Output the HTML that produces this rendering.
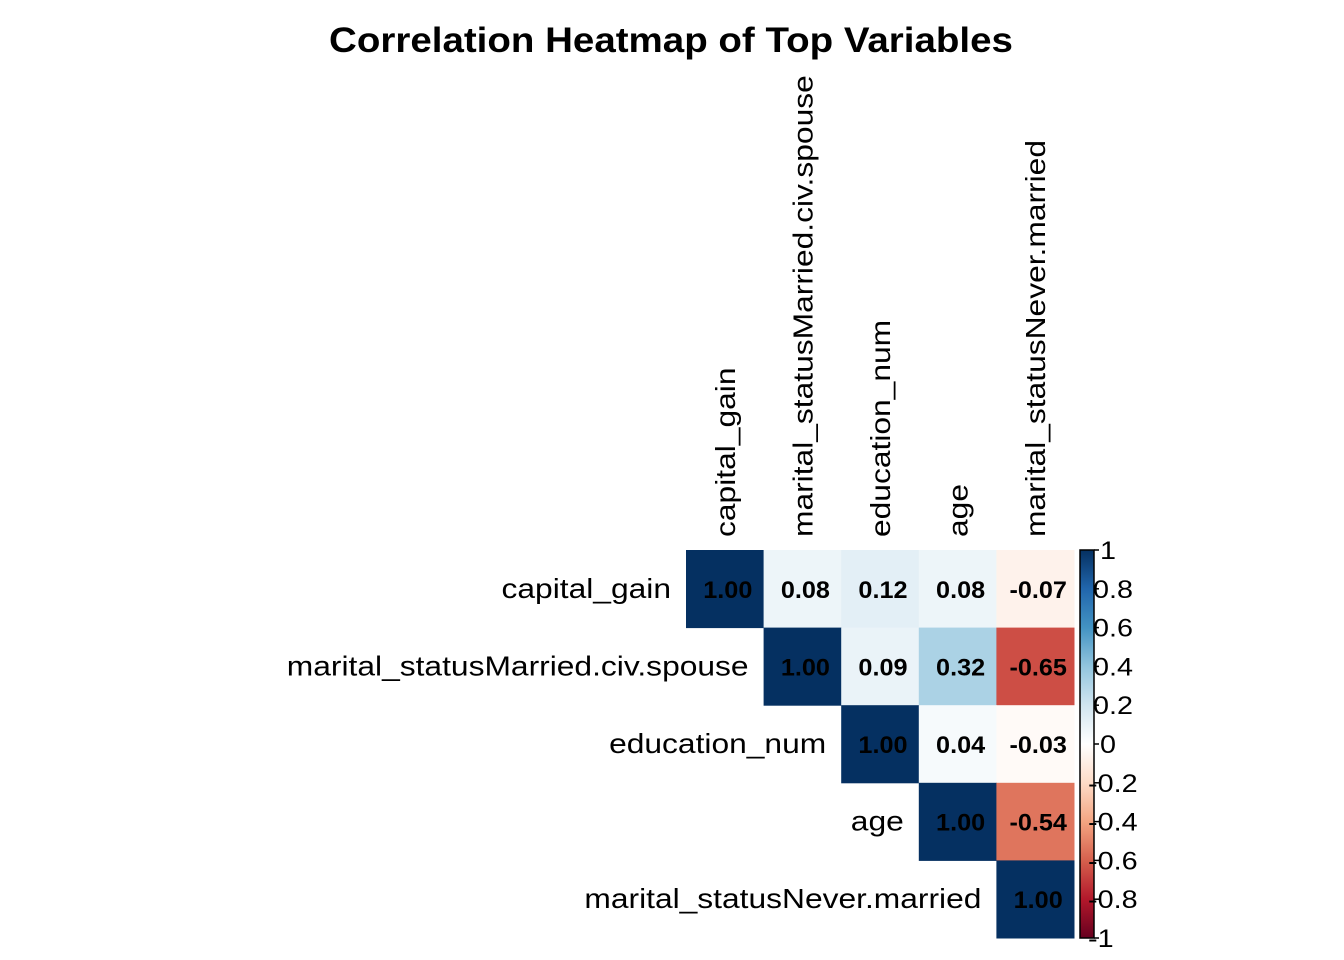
<!DOCTYPE html>
<html><head><meta charset="utf-8">
<style>
html,body{margin:0;padding:0;background:#fff;}
svg{display:block;font-family:"Liberation Sans",Arial,sans-serif;}
</style></head>
<body>
<svg id="chart" width="1344" height="960" viewBox="0 0 1344 960">
  <defs>
    <clipPath id="plotclip"><rect x="0" y="73" width="1344" height="887"/></clipPath>
    <linearGradient id="legendgrad" x1="0" y1="1" x2="0" y2="0"></linearGradient>
  </defs>
  <text id="title" x="671" y="52" text-anchor="middle" font-size="35" font-weight="bold" fill="#000">Correlation Heatmap of Top Variables</text>
  <g id="cells"></g>
  <g id="labels" clip-path="url(#plotclip)"></g>
  <g id="legend"></g>
</svg>
<script>
const variables = ["capital_gain","marital_statusMarried.civ.spouse","education_num","age","marital_statusNever.married"];
const row0 = [1.00, 0.08, 0.12, 0.08, -0.07];
const row1 = [null, 1.00, 0.09, 0.32, -0.65];
const row2 = [null, null, 1.00, 0.04, -0.03];
const row3 = [null, null, null, 1.00, -0.54];
const row4 = [null, null, null, null, 1.00];
const matrix = [row0,row1,row2,row3,row4];
const legendTicks = [1,0.8,0.6,0.4,0.2,0,-0.2,-0.4,-0.6,-0.8,-1];

const palette = ["#67001F","#B2182B","#D6604D","#F4A582","#FDDBC7","#FFFFFF","#D1E5F0","#92C5DE","#4393C3","#2166AC","#053061"];
function hex(h){return [1,3,5].map(i=>parseInt(h.substr(i,2),16));}
function colorFor(v){
  const t=(v+1)/2*(palette.length-1);
  const i=Math.min(Math.floor(t),palette.length-2), f=t-i;
  const a=hex(palette[i]), b=hex(palette[i+1]);
  return "rgb("+a.map((c,k)=>Math.round(c+(b[k]-c)*f)).join(",")+")";
}
const NS="http://www.w3.org/2000/svg";
const x0=686, y0=550, cs=77.6;
function xPos(j){return x0+j*cs;}
function yPos(i){return y0+i*cs;}
function mk(tag,attrs,parent){const e=document.createElementNS(NS,tag);for(const k in attrs)e.setAttribute(k,attrs[k]);parent.appendChild(e);return e;}
function stretch(t,f){const w=t.getComputedTextLength();t.setAttribute("textLength",(w*f).toFixed(1));t.setAttribute("lengthAdjust","spacingAndGlyphs");}

stretch(document.getElementById("title"),1.1);

const cells=document.getElementById("cells");
matrix.forEach((row,i)=>{
  row.forEach((v,j)=>{
    if(v===null)return;
    const r=mk("rect",{x:xPos(j),y:yPos(i),width:cs+0.5,height:cs+0.5,fill:colorFor(v)},cells);
    
    
    const t=mk("text",{x:xPos(j)+cs/2+3,y:yPos(i)+cs/2+9,"text-anchor":"middle","font-size":"24","font-weight":"bold",fill:"#000"},cells);
    t.textContent=v.toFixed(2);
    
    
    stretch(t,1.05);
  });
});

const labels=document.getElementById("labels");
variables.forEach((name,i)=>{
  const t=mk("text",{x:xPos(i)-15,y:yPos(i)+cs/2+9,"text-anchor":"end","font-size":"28",fill:"#000"},labels);
  t.textContent=name;
  
  
  stretch(t,1.134);
  const cx=xPos(i)+cs/2+10, cy=537;
  const c=mk("text",{x:cx,y:cy,"text-anchor":"start","font-size":"28",fill:"#000",transform:"rotate(-90 "+cx+" "+cy+")"},labels);
  c.textContent=name;
  
  
  stretch(c,1.134);
});

const grad=document.getElementById("legendgrad");
palette.forEach((p,k)=>{mk("stop",{offset:(k/(palette.length-1)*100)+"%","stop-color":p},grad);});
const legend=document.getElementById("legend");
const lx=1080, lw=14, ly0=550, ly1=938;
function lyPos(v){return ly0+(1-v)/2*(ly1-ly0);}
const bar=mk("rect",{x:lx,y:ly0,width:lw,height:ly1-ly0,fill:"url(#legendgrad)",stroke:"#000","stroke-width":"1.5"},legend);


legendTicks.forEach(v=>{
  const y=lyPos(v);
  const tk=mk("line",{x1:lx+lw,x2:lx+lw+5,y1:y,y2:y,stroke:"#000","stroke-width":"1.5"},legend);
  
  
  const isInt=Number.isInteger(v);
  const tx = v<0 ? 1088 : (isInt?1100:1093);
  const t=mk("text",{x:tx,y:y+9,"font-size":"25",fill:"#000"},legend);
  t.textContent=String(v);
  
  
  stretch(t,1.15);
});
</script>
</body></html>
